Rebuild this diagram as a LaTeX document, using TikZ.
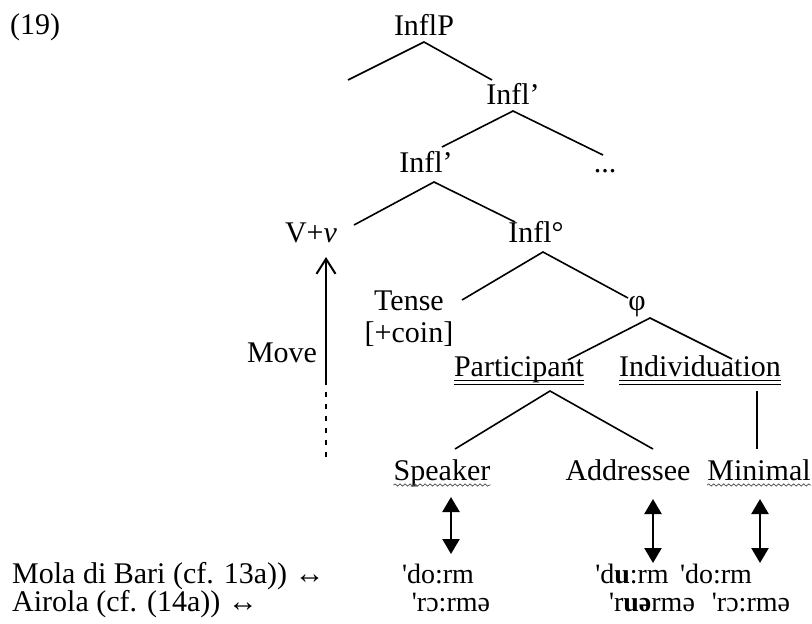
\documentclass[tikz,border=0pt]{standalone}
\usepackage{fontspec}
\setmainfont{Liberation Serif}
\usetikzlibrary{positioning, arrows.meta, decorations.pathmorphing}

\tikzset{
  lbl/.style={anchor=base, inner sep=0pt, font=\fontsize{30}{34}\selectfont},
  form/.style={lbl, font=\fontsize{28}{32}\selectfont},
  branch/.style={line width=1.6pt},
  dblunder/.style={line width=0.9pt},
  spellwave/.style={gray!60!black, line width=0.7pt, decorate,
    decoration={snake, amplitude=1.1pt, segment length=5pt}},
  linkarrow/.style={line width=2.4pt,
    {Triangle[length=15pt,width=17pt]}-{Triangle[length=15pt,width=17pt]}},
  movearrow/.style={line width=2pt, -{Straight Barb[length=15pt,width=19pt,line width=2pt]}},
}

\begin{document}
\begin{tikzpicture}[x=1pt, y=-1pt]
  \useasboundingbox (0,0) rectangle (812,624);
  % example number
  \node[lbl, anchor=base west] (exnum) at (10,34) {(19)};
  % tree labels
  \node[lbl] (inflP) at (424,35) {InflP};
  \node[lbl] (inflA) at (513,104) {Infl’};
  \node[lbl] (inflB) at (426,172) {Infl’};
  \node[lbl] (dots) at (605,172) {...};
  \node[lbl] (vv) at (311,242) {V+\textit{v}};
  \node[lbl] (infl0) at (536,242) {Infl°};
  \node[lbl] (tense) at (409,310) {Tense};
  \node[lbl] (coin) at (409,342) {[+coin]};
  \node[lbl] (phi) at (637,310) {φ};
  \node[lbl] (part) at (519,376) {Participant};
  \node[lbl] (indiv) at (700,376) {Individuation};
  \node[lbl] (spk) at (442,480) {Speaker};
  \node[lbl] (addr) at (628,480) {Addressee};
  \node[lbl] (mini) at (759,480) {Minimal};
  \node[lbl] (move) at (282,362) {Move};
  % branches
  \coordinate (inflP-top) at (424,42);
  \coordinate (spec-end) at (348,80);
  \coordinate (inflA-end) at (492,80);
  \draw[branch] (spec-end) -- (inflP-top) -- (inflA-end);
  \coordinate (inflA-top) at (513,111);
  \coordinate (inflB-end) at (442,147);
  \coordinate (dots-end) at (603,155);
  \draw[branch] (inflB-end) -- (inflA-top) -- (dots-end);
  \coordinate (inflB-top) at (434,182);
  \coordinate (vv-end) at (354,225);
  \coordinate (infl0-end) at (515,222);
  \draw[branch] (vv-end) -- (inflB-top) -- (infl0-end);
  \coordinate (infl0-top) at (543,252);
  \coordinate (tense-end) at (462,300);
  \coordinate (phi-end) at (628,298);
  \draw[branch] (tense-end) -- (infl0-top) -- (phi-end);
  \coordinate (phi-top) at (650,318);
  \coordinate (part-end) at (568,360);
  \coordinate (indiv-end) at (732,359);
  \draw[branch] (part-end) -- (phi-top) -- (indiv-end);
  \coordinate (part-top) at (550,391);
  \coordinate (spk-end) at (455,449);
  \coordinate (addr-end) at (653,449);
  \draw[branch] (spk-end) -- (part-top) -- (addr-end);
  \coordinate (indiv-top) at (757,391);
  \coordinate (mini-end) at (757,449);
  \draw[branch] (indiv-top) -- (mini-end);
  % underlines
  \foreach \n in {part, indiv} {
    \draw[dblunder] ([yshift=-4.5pt]\n.base west) -- ([yshift=-4.5pt]\n.base east);
    \draw[dblunder] ([yshift=-8pt]\n.base west) -- ([yshift=-8pt]\n.base east);
  }
  \foreach \n in {spk, mini}
    \draw[spellwave] ([yshift=-5pt]\n.base west) -- ([yshift=-5pt]\n.base east);
  % head movement
  \coordinate (trace) at (326,457);
  \coordinate (trace-top) at (326,384);
  \coordinate (vv-tip) at (326,257);
  \draw[line width=2pt, dash pattern=on 5pt off 7pt] (trace) -- (trace-top);
  \draw[movearrow] (trace-top) -- (vv-tip);
  % exponents
  \node[lbl, anchor=base west] (mola) at (12,583) {Mola di Bari (cf. 13a)) ↔};
  \node[lbl, anchor=base west] (airola) at (12,611) {Airola (cf. (14a)) ↔};
  \node[form] (mola-spk) at (438,583) {\textquotesingle do:rm};
  \node[form] (mola-addr) at (632,583) {\textquotesingle d\textbf{u}:rm};
  \node[form] (mola-mini) at (716,583) {\textquotesingle do:rm};
  \node[form] (air-spk) at (451,611) {\textquotesingle rɔ:rmə};
  \node[form] (air-addr) at (652,611) {\textquotesingle r\textbf{uə}rmə};
  \node[form] (air-mini) at (751,611) {\textquotesingle rɔ:rmə};
  \coordinate (spk-a) at (451,497);
  \coordinate (spk-b) at (451,554);
  \coordinate (addr-a) at (653,499);
  \coordinate (addr-b) at (653,563);
  \coordinate (mini-a) at (760,499);
  \coordinate (mini-b) at (760,563);
  \draw[linkarrow] (spk-a) -- (spk-b);
  \draw[linkarrow] (addr-a) -- (addr-b);
  \draw[linkarrow] (mini-a) -- (mini-b);
\end{tikzpicture}
\end{document}
